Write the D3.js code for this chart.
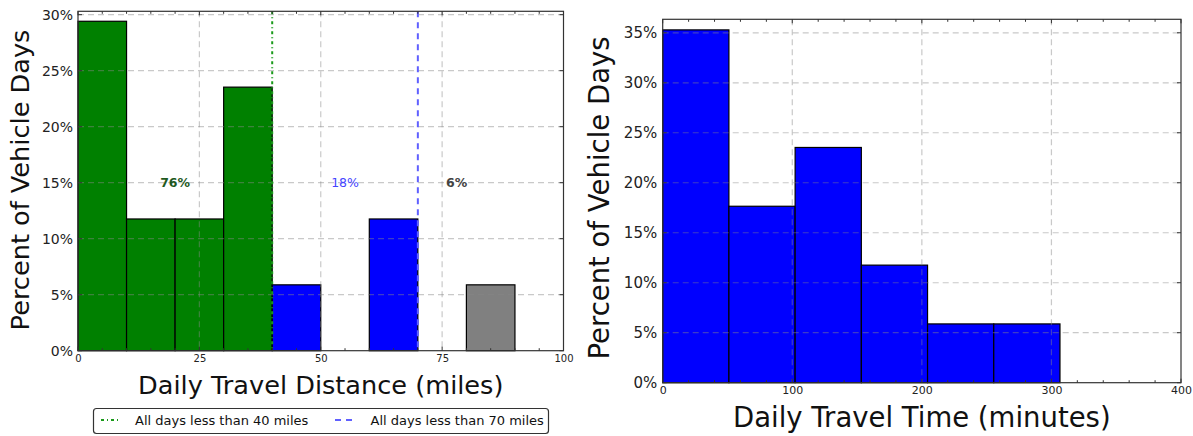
<!DOCTYPE html>
<html>
<head>
<meta charset="utf-8">
<script src="https://cdn.jsdelivr.net/npm/d3@7"></script>
<style>
  html, body { margin: 0; padding: 0; background: #fff; }
  svg { display: block; font-family: "DejaVu Sans", sans-serif; }
</style>
</head>
<body>
<svg id="chart" width="1193" height="436"></svg>
<script>
// ---------- data ----------
const distEdges = [0, 10, 20, 30, 40, 50, 60, 70, 80, 90];
const distPct   = [29.41, 11.76, 11.76, 23.53, 5.88, 0, 11.76, 0, 5.88];
const distThresholds = [40, 70];
const distXTicks = [0, 25, 50, 75, 100];
const distYTicks = [0, 5, 10, 15, 20, 25, 30];
const distLabels = ["76%", "18%", "6%"];
const distLabelX = [20, 55, 78];
const distLabelY = 15;
const legendLabels = ["All days less than 40 miles", "All days less than 70 miles"];

const timeEdges = [0, 51.1, 102.2, 153.3, 204.4, 255.5, 306.6];
const timePct   = [35.29, 17.65, 23.53, 11.76, 5.88, 5.88];
const timeXTicks = [0, 100, 200, 300, 400];
const timeYTicks = [0, 5, 10, 15, 20, 25, 30, 35];

const svg = d3.select("#chart");

function drawPanel(opt) {
  const g = svg.append("g");
  const x = d3.scaleLinear().domain(opt.xDomain).range([opt.left, opt.right]);
  const y = d3.scaleLinear().domain(opt.yDomain).range([opt.bottom, opt.top]);

  // bars
  g.selectAll("rect.bar").data(opt.values).enter().append("rect")
    .attr("x", (d, i) => x(opt.edges[i]))
    .attr("y", d => y(d))
    .attr("width", (d, i) => x(opt.edges[i + 1] !== undefined ? opt.edges[i + 1] : opt.edges[i] + (opt.edges[1] - opt.edges[0])) - x(opt.edges[i]))
    .attr("height", d => y(0) - y(d))
    .attr("fill", (d, i) => opt.color(opt.edges[i]))
    .attr("stroke", d => d > 0 ? "#000" : "none")
    .attr("stroke-width", 1.2);

  // grid
  const grid = g.append("g").attr("stroke", "#888").attr("stroke-opacity", 0.45)
    .attr("stroke-width", 1.2).attr("stroke-dasharray", "6,4");
  grid.selectAll("line.h").data(opt.yTicks.filter(t => t > 0)).enter().append("line")
    .attr("x1", opt.left).attr("x2", opt.right)
    .attr("y1", d => y(d)).attr("y2", d => y(d));
  grid.selectAll("line.v").data(opt.xTicks.filter(t => t > opt.xDomain[0] && t < opt.xDomain[1])).enter().append("line")
    .attr("y1", opt.top).attr("y2", opt.bottom)
    .attr("x1", d => x(d)).attr("x2", d => x(d));

  if (opt.extra) opt.extra(g, x, y);

  // frame
  g.append("rect").attr("x", opt.left).attr("y", opt.top)
    .attr("width", opt.right - opt.left).attr("height", opt.bottom - opt.top)
    .attr("fill", "none").attr("stroke", "#333").attr("stroke-width", 1.2);

  // ticks (inward, all sides)
  const tk = g.append("g").attr("stroke", "#333").attr("stroke-width", 1);
  const minor = d3.range(opt.xDomain[0], opt.xDomain[1] + 1e-9, opt.minorStep);
  minor.forEach(v => {
    const len = opt.xTicks.includes(v) ? 4 : 2.5;
    tk.append("line").attr("x1", x(v)).attr("x2", x(v)).attr("y1", opt.bottom).attr("y2", opt.bottom - len);
    tk.append("line").attr("x1", x(v)).attr("x2", x(v)).attr("y1", opt.top).attr("y2", opt.top + len);
  });
  opt.yTicks.forEach(v => {
    tk.append("line").attr("x1", opt.left).attr("x2", opt.left + 4).attr("y1", y(v)).attr("y2", y(v));
    tk.append("line").attr("x1", opt.right).attr("x2", opt.right - 4).attr("y1", y(v)).attr("y2", y(v));
  });

  // axes labels via d3 axes (tick text only)
  const xa = g.append("g").attr("transform", `translate(0,${opt.bottom})`)
    .call(d3.axisBottom(x).tickValues(opt.xTicks).tickSize(0).tickPadding(opt.xTickPad));
  xa.select(".domain").remove();
  xa.selectAll("text").attr("font-size", opt.xTickFont).attr("fill", "#222").attr("font-family", "DejaVu Sans");
  const ya = g.append("g").attr("transform", `translate(${opt.left},0)`)
    .call(d3.axisLeft(y).tickValues(opt.yTicks).tickSize(0).tickPadding(opt.yTickPad).tickFormat(d => d + "%"));
  ya.select(".domain").remove();
  ya.selectAll("text").attr("font-size", opt.yTickFont).attr("fill", "#222").attr("font-family", "DejaVu Sans");

  g.append("text").attr("x", (opt.left + opt.right) / 2).attr("y", opt.xLabelY)
    .attr("text-anchor", "middle").attr("font-size", opt.labelFont).attr("fill", "#111")
    .text(opt.xLabel);
  g.append("text").attr("transform", `translate(${opt.yLabelX},${opt.yLabelCY}) rotate(-90)`)
    .attr("text-anchor", "middle").attr("font-size", opt.labelFont).attr("fill", "#111")
    .text("Percent of Vehicle Days");
  return g;
}

const colorDist = v => v < distThresholds[0] ? "#008000" : (v < distThresholds[1] ? "#0000ff" : "#808080");

drawPanel({
  left: 78, right: 563.5, top: 11.3, bottom: 350.7,
  xDomain: [0, 100], yDomain: [0, 30.3],
  edges: distEdges, values: distPct, color: colorDist,
  xTicks: distXTicks, yTicks: distYTicks, minorStep: 5,
  xTickFont: 10, yTickFont: 14, xTickPad: 4, yTickPad: 5,
  labelFont: 25.6, xLabel: "Daily Travel Distance (miles)", xLabelY: 393.5,
  yLabelX: 28.5, yLabelCY: 180,
  extra: (g, x, y) => {
    g.append("line").attr("x1", x(distThresholds[0])).attr("x2", x(distThresholds[0]))
      .attr("y1", 11.3).attr("y2", 350.7)
      .attr("stroke", "#1a9a1a").attr("stroke-width", 2).attr("stroke-dasharray", "3,3,1,3");
    g.append("line").attr("x1", x(distThresholds[1])).attr("x2", x(distThresholds[1]))
      .attr("y1", 11.3).attr("y2", 350.7)
      .attr("stroke", "#6060ff").attr("stroke-width", 2).attr("stroke-dasharray", "6,5");
    const colors = ["#1f5a1f", "#4444ff", "#444"];
    const weights = ["bold", "normal", "bold"];
    distLabels.forEach((t, i) => {
      g.append("text").attr("x", x(distLabelX[i])).attr("y", y(distLabelY))
        .attr("dy", "0.35em").attr("text-anchor", "middle")
        .attr("font-size", 12.5).attr("font-weight", weights[i]).attr("fill", colors[i])
        .text(t);
    });
  }
});

drawPanel({
  left: 662.7, right: 1181, top: 19.3, bottom: 382.7,
  xDomain: [0, 400], yDomain: [0, 36.35],
  edges: timeEdges, values: timePct, color: () => "#0000ff",
  xTicks: timeXTicks, yTicks: timeYTicks, minorStep: 20,
  xTickFont: 11, yTickFont: 15, xTickPad: 4, yTickPad: 5.5,
  labelFont: 27.5, xLabel: "Daily Travel Time (minutes)", xLabelY: 426.5,
  yLabelX: 608.5, yLabelCY: 198
});

// legend
const leg = svg.append("g");
leg.append("rect").attr("x", 93.5).attr("y", 408.5).attr("width", 455).attr("height", 25)
  .attr("rx", 3).attr("fill", "#fff").attr("stroke", "#333").attr("stroke-width", 1.2);
leg.append("line").attr("x1", 101).attr("x2", 121).attr("y1", 420).attr("y2", 420)
  .attr("stroke", "#1a9a1a").attr("stroke-width", 2).attr("stroke-dasharray", "3,3,1,3");
leg.append("line").attr("x1", 335).attr("x2", 357).attr("y1", 420).attr("y2", 420)
  .attr("stroke", "#6060ff").attr("stroke-width", 2).attr("stroke-dasharray", "6,5");
[135, 370.5].forEach((lx, i) => {
  leg.append("text").attr("x", lx).attr("y", 424.5).attr("font-size", 13).attr("fill", "#111")
    .text(legendLabels[i]);
});
</script>
</body>
</html>
